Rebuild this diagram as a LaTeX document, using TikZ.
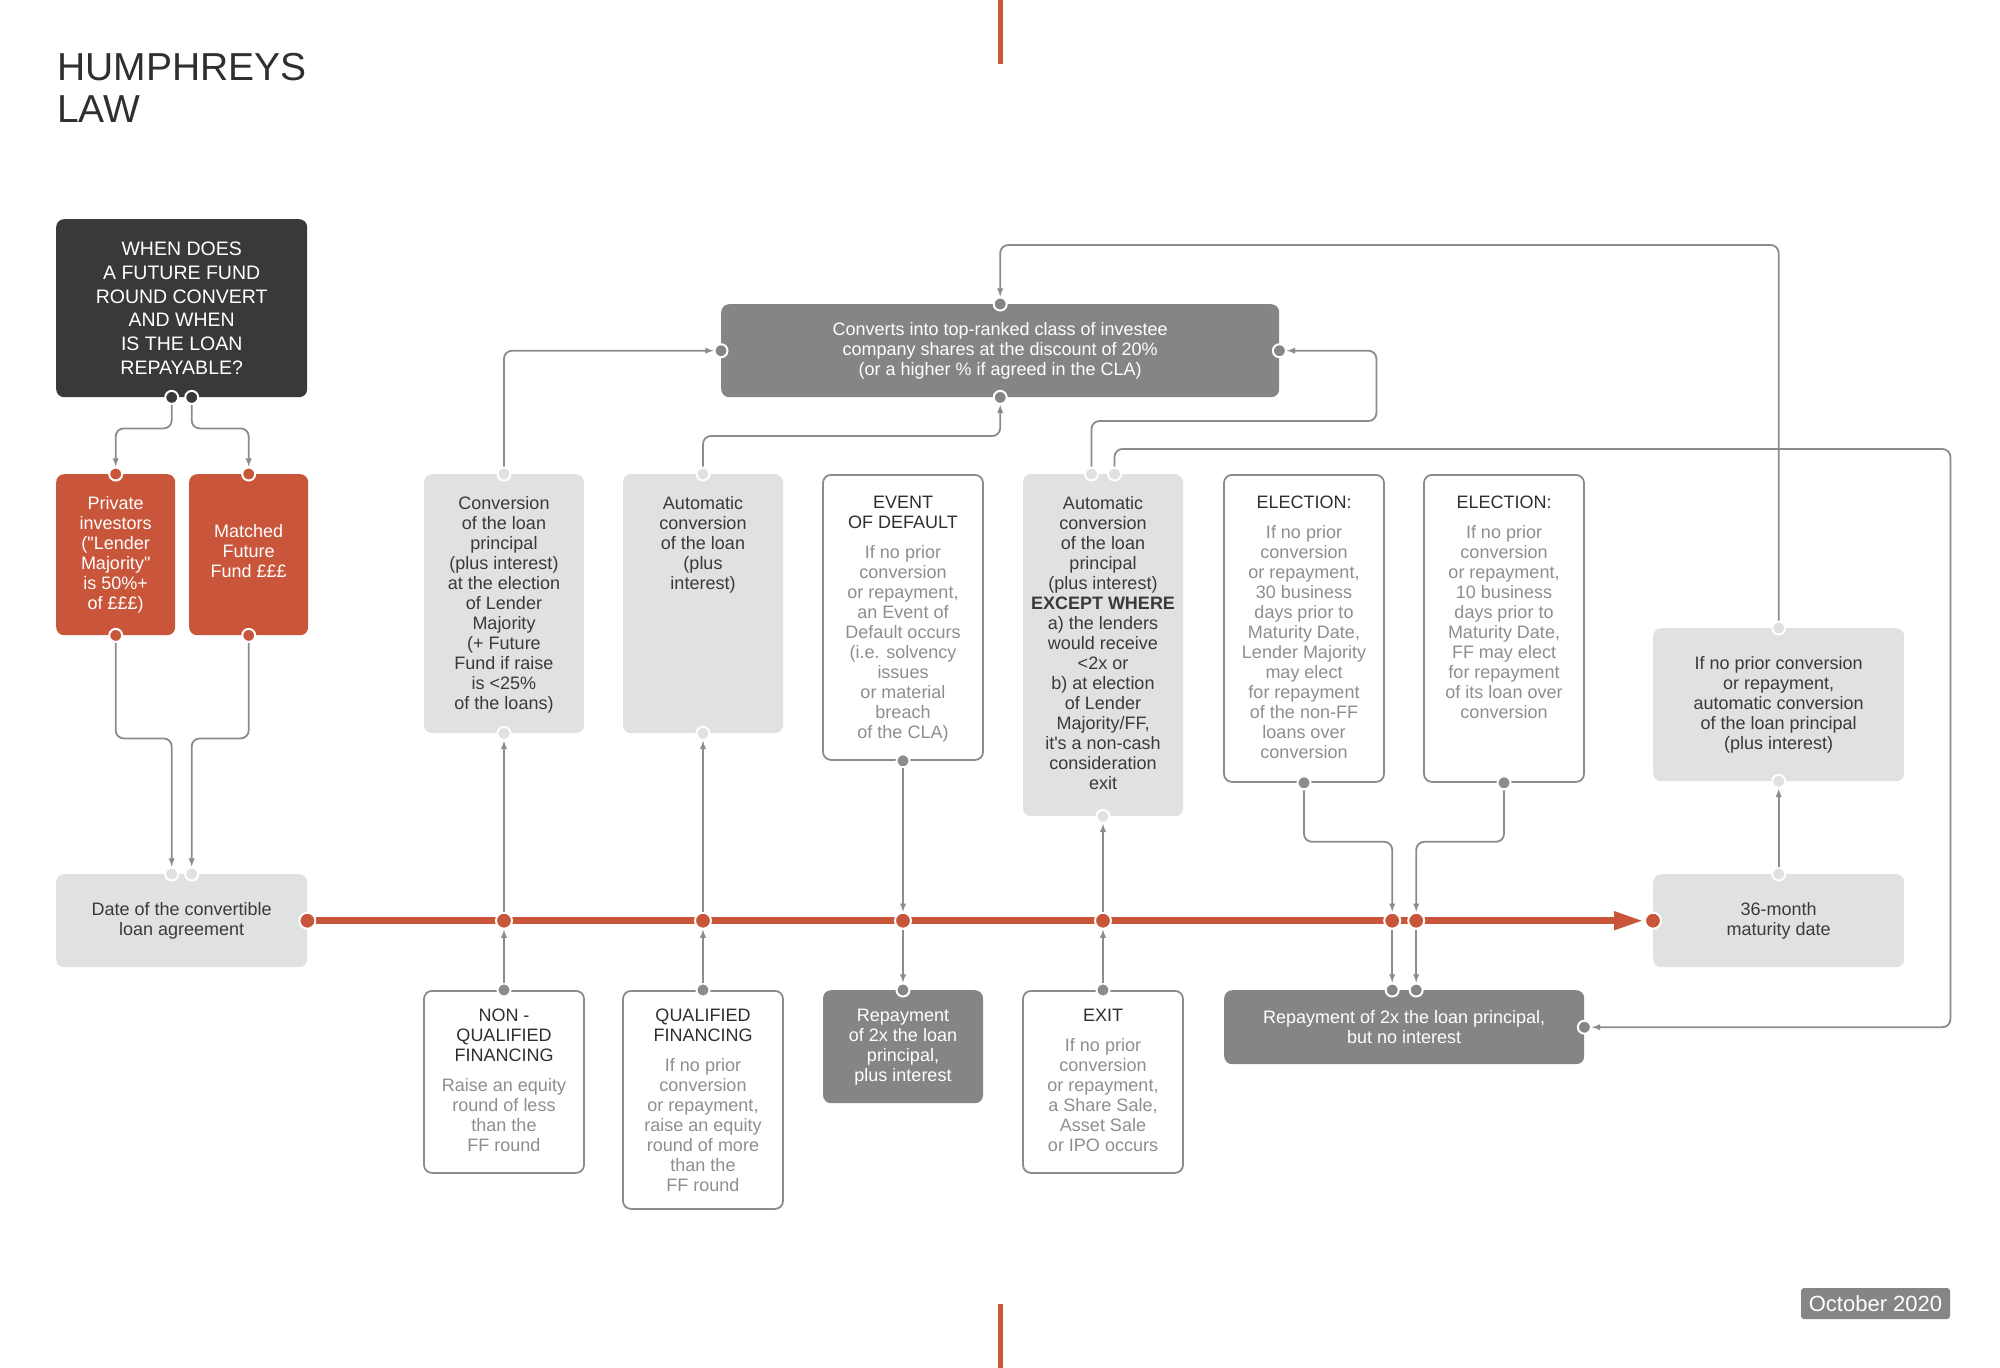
\documentclass[tikz,border=0pt]{standalone}
\usepackage{fontspec}
\setmainfont{Liberation Sans}
\usetikzlibrary{arrows.meta,
                positioning}
\definecolor{hlred}{HTML}{C9553A}
\definecolor{hldark}{HTML}{393939}
\definecolor{hlmid}{HTML}{858585}
\definecolor{hllight}{HTML}{E0E1E1}
\definecolor{hlline}{HTML}{8C8C8C}
\definecolor{hlink}{HTML}{3A3A3A}
\definecolor{hlhead}{HTML}{2F2F2F}
\definecolor{hlsub}{HTML}{8E8E8E}
\tikzset{box/.style=
   {rectangle,
    rounded corners=8pt,
    inner sep=0pt,
    align=center,
    font=\fontsize{18}{20}\selectfont}}
\tikzset{darkbox/.style =
   {box,
    fill=hldark,
    text=white,
    font=\fontsize{19.5}{23.7}\selectfont}}
\tikzset{redbox/.style =
   {box,
    fill=hlred,
    text=white,
    minimum width=119pt,
    minimum height=161pt}}
\tikzset{lightbox/.style = {box, fill=hllight, text=hlink}}
\tikzset{midbox/.style = {box, fill=hlmid, text=white}}
\tikzset{linebox/.style =
   {box,
    draw=hlline,
    line width=1.8pt,
    fill=white}}
\tikzset{colbox/.style = {minimum width=160pt, anchor=north}}
\tikzset{boxtext/.style =
   {align=center,
    inner sep=0pt,
    font=\fontsize{18}{20}\selectfont,
    text=hlink}}
\tikzset{boxhead/.style = {boxtext, text=hlhead}}
\tikzset{boxsub/.style = {boxtext, text=hlsub}}
\tikzset{headline/.style =
   {align=left,
    inner sep=0pt,
    text=hlhead,
    font=\fontsize{39}{42}\selectfont}}
\tikzset{port/.style =
   {circle,
    inner sep=0pt,
    minimum size=13pt,
    draw=white,
    line width=2pt}}
\tikzset{tdot/.style = {port, fill=hlred, minimum size=16pt}}
\tikzset{conn/.style = {draw=hlline, line width=1.8pt, rounded corners=8pt, -latex}}
\tikzset{timeline/.style = {draw=hlred, line width=7pt, -{Triangle[length=30pt,width=17pt]}}}
\tikzset{redmark/.style = {draw=hlred, line width=5pt}}
\begin{document}
\begin{tikzpicture}[x=1pt, y=-1pt]
    \useasboundingbox (0,0) rectangle (2000,1368);
    \fill[white] (0,0) rectangle (2000,1368);
    \draw[redmark] (1000,0) -- (1000,64);
    \draw[redmark] (1000,1304) -- (1000,1368);

    \node [headline, anchor=north west] (title) at (57,53) {HUMPHREYS\\LAW};

    % left column
    \node [darkbox,
           minimum width=251pt,
           minimum height=178pt,
           anchor=north west] (quest) at (56,219)
    {WHEN DOES\\A FUTURE FUND\\ROUND CONVERT\\AND WHEN\\IS THE LOAN\\REPAYABLE?};

    \node [redbox, anchor=north west] (priv) at (56,474)
    {Private\\investors\\(\textquotedbl Lender\\Majority\textquotedbl\\is 50\%+\\of £££)};
    \node [redbox, anchor=north west] (match) at (189,474)
    {Matched\\Future\\Fund £££\\[-12pt]};

    \node [lightbox,
           minimum width=251pt,
           minimum height=93pt,
           anchor=north west] (date) at (56,874)
    {Date of the convertible\\loan agreement};

    % right column
    \node [lightbox,
           minimum width=251pt,
           minimum height=153pt,
           anchor=north west] (noprior) at (1653,628)
    {If no prior conversion\\or repayment,\\automatic conversion\\of the loan principal\\(plus interest)};

    \node [lightbox,
           minimum width=251pt,
           minimum height=93pt,
           anchor=north west] (mat) at (1653,874)
    {36-month\\maturity date};

    \node [midbox,
           minimum width=558pt,
           minimum height=93pt,
           anchor=north west] (shares) at (721,304)
    {Converts into top-ranked class of investee\\company shares at the discount of 20\%\\(or a higher \% if agreed in the CLA)};

    % upper row
    \node [lightbox, colbox, minimum height=259pt] (conv) at (504,474) {};
    \node [lightbox, colbox, minimum height=259pt] (auto) at (703,474) {};
    \node [linebox, colbox, minimum height=285pt] (default) at (903,474) {};
    \node [lightbox, colbox, minimum height=342pt] (except) at (1103,474) {};
    \node [linebox, colbox, minimum height=307pt] (elect1) at (1304,474) {};
    \node [linebox, colbox, minimum height=307pt] (elect2) at (1504,474) {};

    \node [boxtext, below=22pt of conv.north] (conv-txt)
    {Conversion\\of the loan\\principal\\(plus interest)\\at the election\\of Lender\\Majority\\(+ Future\\Fund if raise\\is <25\%\\of the loans)};
    \node [boxtext, below=22pt of auto.north] (auto-txt)
    {Automatic\\conversion\\of the loan\\(plus\\interest)};
    \node [boxhead, below=22pt of default.north] (default-head) {EVENT\\OF DEFAULT};
    \node [boxsub, below=16pt of default-head] (default-sub)
    {If no prior\\conversion\\or repayment,\\an Event of\\Default occurs\\(i.e. solvency\\issues\\or material\\breach\\of the CLA)};
    \node [boxtext, below=22pt of except.north] (except-txt)
    {Automatic\\conversion\\of the loan\\principal\\(plus interest)\\\textbf{EXCEPT WHERE}\\a) the lenders\\would receive\\<2x or\\b) at election\\of Lender\\Majority/FF,\\it\textquotesingle s a non-cash\\consideration\\exit};
    \node [boxhead, below=22pt of elect1.north] (elect1-head) {ELECTION:};
    \node [boxsub, below=16pt of elect1-head] (elect1-sub)
    {If no prior\\conversion\\or repayment,\\30 business\\days prior to\\Maturity Date,\\Lender Majority\\may elect\\for repayment\\of the non-FF\\loans over\\conversion};
    \node [boxhead, below=22pt of elect2.north] (elect2-head) {ELECTION:};
    \node [boxsub, below=16pt of elect2-head] (elect2-sub)
    {If no prior\\conversion\\or repayment,\\10 business\\days prior to\\Maturity Date,\\FF may elect\\for repayment\\of its loan over\\conversion};

    % lower row
    \node [linebox, colbox, minimum height=182pt] (nonq) at (504,990) {};
    \node [linebox, colbox, minimum height=218pt] (qual) at (703,990) {};
    \node [midbox, colbox, minimum height=113pt] (repay) at (903,990)
    {Repayment\\of 2x the loan\\principal,\\plus interest};
    \node [linebox, colbox, minimum height=182pt] (exit) at (1103,990) {};
    \node [midbox,
           minimum width=360pt,
           minimum height=74pt,
           anchor=north west] (repay2) at (1224,990)
    {Repayment of 2x the loan principal,\\but no interest};

    \node [boxhead, below=19pt of nonq.north] (nonq-head) {NON -\\QUALIFIED\\FINANCING};
    \node [boxsub, below=16pt of nonq-head] (nonq-sub)
    {Raise an equity\\round of less\\than the\\FF round};
    \node [boxhead, below=19pt of qual.north] (qual-head) {QUALIFIED\\FINANCING};
    \node [boxsub, below=16pt of qual-head] (qual-sub)
    {If no prior\\conversion\\or repayment,\\raise an equity\\round of more\\than the\\FF round};
    \node [boxhead, below=19pt of exit.north] (exit-head) {EXIT};
    \node [boxsub, below=16pt of exit-head] (exit-sub)
    {If no prior\\conversion\\or repayment,\\a Share Sale,\\Asset Sale\\or IPO occurs};

    \node [midbox,
           rounded corners=3pt,
           minimum width=149pt,
           minimum height=31pt,
           font=\fontsize{22}{24}\selectfont] (issue) at (1875.5,1303.5) {October 2020};

    % ports
    \node [port, fill=hldark] (quest-l) at ([xshift=-10pt]quest.south) {};
    \node [port, fill=hldark] (quest-r) at ([xshift=10pt]quest.south) {};
    \node [port, fill=hlred] (priv-n) at (priv.north) {};
    \node [port, fill=hlred] (priv-s) at (priv.south) {};
    \node [port, fill=hlred] (match-n) at (match.north) {};
    \node [port, fill=hlred] (match-s) at (match.south) {};
    \node [port, fill=hllight] (date-nl) at ([xshift=-10pt]date.north) {};
    \node [port, fill=hllight] (date-nr) at ([xshift=10pt]date.north) {};
    \node [tdot] (date-e) at (date.east) {};
    \node [tdot] (mat-w) at (mat.west) {};
    \node [port, fill=hllight] (mat-n) at (mat.north) {};
    \node [port, fill=hllight] (noprior-n) at (noprior.north) {};
    \node [port, fill=hllight] (noprior-s) at (noprior.south) {};
    \node [port, fill=hlmid] (shares-w) at (shares.west) {};
    \node [port, fill=hlmid] (shares-e) at (shares.east) {};
    \node [port, fill=hlmid] (shares-n) at (shares.north) {};
    \node [port, fill=hlmid] (shares-s) at (shares.south) {};
    \node [port, fill=hllight] (conv-n) at (conv.north) {};
    \node [port, fill=hllight] (conv-s) at (conv.south) {};
    \node [port, fill=hllight] (auto-n) at (auto.north) {};
    \node [port, fill=hllight] (auto-s) at (auto.south) {};
    \node [port, fill=hlline] (default-s) at (default.south) {};
    \node [port, fill=hllight] (except-nl) at ([xshift=-11.5pt]except.north) {};
    \node [port, fill=hllight] (except-nr) at ([xshift=11.5pt]except.north) {};
    \node [port, fill=hllight] (except-s) at (except.south) {};
    \node [port, fill=hlline] (elect1-s) at (elect1.south) {};
    \node [port, fill=hlline] (elect2-s) at (elect2.south) {};
    \node [port, fill=hlline] (nonq-n) at (nonq.north) {};
    \node [port, fill=hlline] (qual-n) at (qual.north) {};
    \node [port, fill=hlmid] (repay-n) at (repay.north) {};
    \node [port, fill=hlline] (exit-n) at (exit.north) {};
    \node [port, fill=hlmid] (repay2-nl) at ([xshift=-12pt]repay2.north) {};
    \node [port, fill=hlmid] (repay2-nr) at ([xshift=12pt]repay2.north) {};
    \node [port, fill=hlmid] (repay2-e) at (repay2.east) {};

    % time line
    \draw [timeline] (date-e) -- (mat-w);
    \node [tdot] (t-conv) at (conv |- date-e) {};
    \node [tdot] (t-auto) at (auto |- date-e) {};
    \node [tdot] (t-default) at (default |- date-e) {};
    \node [tdot] (t-except) at (except |- date-e) {};
    \node [tdot] (t-elect1) at (repay2-nl |- date-e) {};
    \node [tdot] (t-elect2) at (repay2-nr |- date-e) {};

    % connectors
    \draw [conn] (quest-l) -- ++(0,31) -| (priv-n);
    \draw [conn] (quest-r) -- ++(0,31) -| (match-n);
    \draw [conn] (priv-s) -- ++(0,103) -| (date-nl);
    \draw [conn] (match-s) -- ++(0,103) -| (date-nr);

    \draw [conn] (nonq-n) -- (t-conv);
    \draw [conn] (t-conv) -- (conv-s);
    \draw [conn] (qual-n) -- (t-auto);
    \draw [conn] (t-auto) -- (auto-s);
    \draw [conn] (default-s) -- (t-default);
    \draw [conn] (t-default) -- (repay-n);
    \draw [conn] (exit-n) -- (t-except);
    \draw [conn] (t-except) -- (except-s);
    \draw [conn] (elect1-s) -- ++(0,59) -| (t-elect1);
    \draw [conn] (elect2-s) -- ++(0,59) -| (t-elect2);
    \draw [conn] (t-elect1) -- (repay2-nl);
    \draw [conn] (t-elect2) -- (repay2-nr);

    \draw [conn] (conv-n) |- (shares-w);
    \draw [conn] (auto-n) -- ++(0,-38) -| (shares-s);
    \draw [conn] (except-nl) -- ++(0,-53) -| ([xshift=97pt]shares-e.center) -- (shares-e);
    \draw [conn] (except-nr) -- ++(0,-25) -| ([xshift=366pt]repay2-e.center) -- (repay2-e);
    \draw [conn] (noprior-n) -- ++(0,-383) -| (shares-n);
    \draw [conn] (mat-n) -- (noprior-s);
\end{tikzpicture}
\end{document}
